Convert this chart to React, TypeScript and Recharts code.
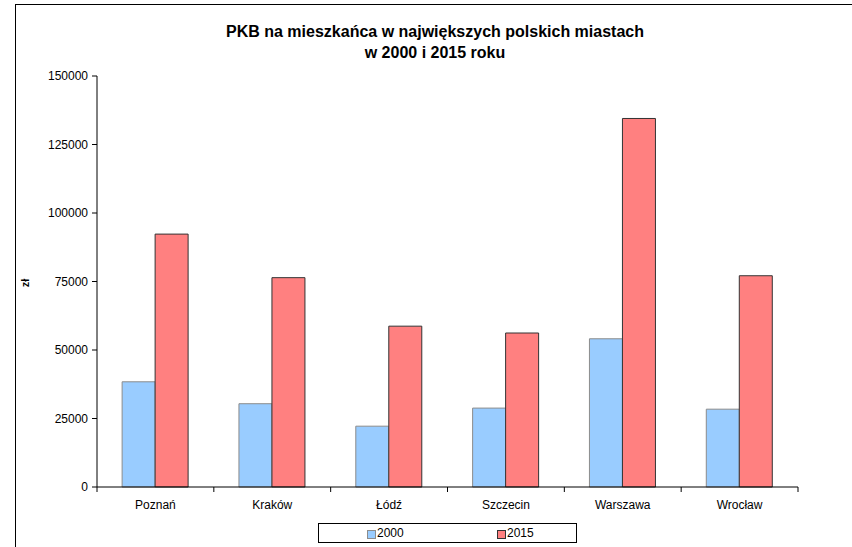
import React from 'react';
import { BarChart, Bar, XAxis, YAxis } from 'recharts';

const cities = ['Poznań', 'Kraków', 'Łódź', 'Szczecin', 'Warszawa', 'Wrocław'];
const values2000 = [38400, 30400, 22200, 28800, 54100, 28400];
const values2015 = [92300, 76400, 58700, 56200, 134500, 77100];
const yTicks = [0, 25000, 50000, 75000, 100000, 125000, 150000];
const seriesNames = ['2000', '2015'];

const data = cities.map((c, i) => ({ city: c, v2000: values2000[i], v2015: values2015[i] }));

const FONT = '"Liberation Sans", Arial, sans-serif';
const W = 852;
const H = 547;
const LEFT = 97;
const RIGHT = 54;
const BAND = (W - LEFT - RIGHT) / cities.length;

const XTick = (props: any) => {
  const { x, y, payload, index } = props;
  const last = index === cities.length - 1;
  return (
    <g>
      <line x1={x - BAND / 2} x2={x - BAND / 2} y1={y} y2={y + 5} stroke="#000" />
      {last && <line x1={x + BAND / 2} x2={x + BAND / 2} y1={y} y2={y + 5} stroke="#000" />}
      <text x={x} y={y + 22} textAnchor="middle" fontSize={12} fontFamily={FONT} fill="#000">
        {payload.value}
      </text>
    </g>
  );
};

export default function App() {
  return (
    <div style={{ position: 'absolute', left: 0, top: 0, width: W, height: H, background: '#fff', overflow: 'hidden', fontFamily: FONT }}>
      <div style={{ position: 'absolute', left: 15, top: 4, width: 900, height: 700, border: '1px solid #000' }} />
      <div style={{ position: 'absolute', left: 435, top: 21, transform: 'translateX(-50%)', whiteSpace: 'nowrap', textAlign: 'center', fontWeight: 'bold', fontSize: 16, lineHeight: '21px', color: '#000' }}>
        PKB na mieszkańca w największych polskich miastach<br />w 2000 i 2015 roku
      </div>
      <div style={{ position: 'absolute', left: 25, top: 283, transform: 'translate(-50%, -50%) rotate(-90deg)', fontWeight: 'bold', fontSize: 11, color: '#000' }}>
        zł
      </div>
      <div style={{ position: 'absolute', left: 0, top: 0 }}>
        <BarChart width={W} height={H} data={data} margin={{ top: 76, right: RIGHT, bottom: 30, left: 0 }} barGap={0} barCategoryGap="21.5%">
          <YAxis
            width={LEFT}
            domain={[0, 150000]}
            ticks={yTicks}
            interval={0}
            tickSize={5}
            tickMargin={4}
            axisLine={{ stroke: '#000' }}
            tickLine={{ stroke: '#000' }}
            tick={{ fill: '#000', fontSize: 12, fontFamily: FONT }}
          />
          <XAxis
            dataKey="city"
            height={30}
            tickSize={0}
            tickMargin={0}
            interval={0}
            axisLine={{ stroke: '#000' }}
            tick={<XTick />}
          />
          <Bar dataKey="v2000" name={seriesNames[0]} fill="#99CCFF" stroke="#8c8c8c" strokeWidth={1} isAnimationActive={false} />
          <Bar dataKey="v2015" name={seriesNames[1]} fill="#FF8080" stroke="#333" strokeWidth={1} isAnimationActive={false} />
        </BarChart>
      </div>
      <div style={{ position: 'absolute', left: 318, top: 523, width: 259, height: 20, border: '1px solid #000', boxSizing: 'border-box', fontSize: 12, color: '#000' }}>
        <div style={{ position: 'absolute', left: 48, top: 6, width: 7, height: 7, background: '#99CCFF', border: '1px solid #8c8c8c' }} />
        <div style={{ position: 'absolute', left: 58, top: 2, lineHeight: '14px' }}>{seriesNames[0]}</div>
        <div style={{ position: 'absolute', left: 178, top: 6, width: 7, height: 7, background: '#FF8080', border: '1px solid #333' }} />
        <div style={{ position: 'absolute', left: 188, top: 2, lineHeight: '14px' }}>{seriesNames[1]}</div>
      </div>
    </div>
  );
}
